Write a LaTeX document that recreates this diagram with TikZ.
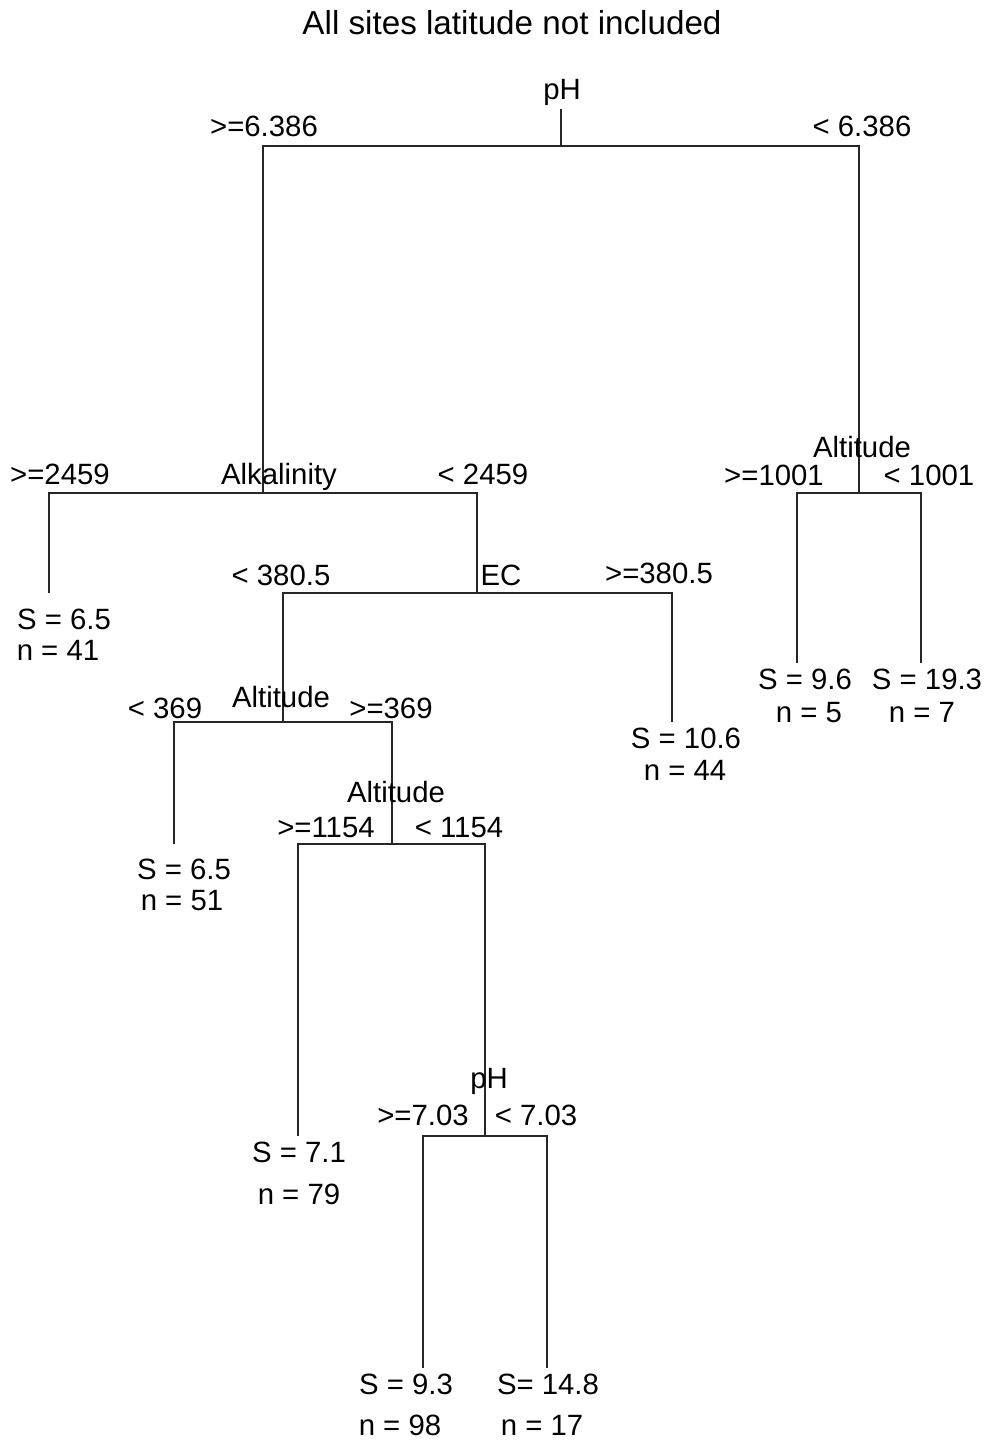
\documentclass[tikz,border=0pt]{standalone}
\usepackage{fontspec}
\setmainfont{Liberation Sans}
\usepackage{tikz}
\usetikzlibrary{positioning}

\begin{document}
\begin{tikzpicture}[
    x=0.02cm, y=-0.02cm,
    edge/.style={line width=0.6pt, black!85},
    lbl/.style={anchor=base, inner sep=0pt, font=\fontsize{16.7}{20}\selectfont},
    ttl/.style={anchor=base, inner sep=0pt, font=\fontsize{18.9}{22}\selectfont}
]
    \useasboundingbox (0,0) rectangle (989,1443);
    \node[ttl] (title) at (512,35) {All sites latitude not included};

    % splits and leaves of the tree
    \coordinate (stub) at (561,109);
    \coordinate (root) at (561,146);
    \coordinate (alk)  at (263,493);
    \coordinate (alt1) at (859,493);
    \coordinate (l41)  at (49,593);
    \coordinate (ec)   at (477,593);
    \coordinate (alt2) at (283,722);
    \coordinate (l44)  at (672,722);
    \coordinate (l51)  at (174,844);
    \coordinate (alt3) at (392,844);
    \coordinate (l79)  at (298,1136);
    \coordinate (ph2)  at (485,1136);
    \coordinate (l98)  at (423,1368);
    \coordinate (l17)  at (547,1368);
    \coordinate (l5)   at (797,663);
    \coordinate (l7)   at (921,663);

    \draw[edge] (stub) -- (root);
    \draw[edge] (root) -| (alk);
    \draw[edge] (root) -| (alt1);
    \draw[edge] (alk) -| (l41);
    \draw[edge] (alk) -| (ec);
    \draw[edge] (ec) -| (alt2);
    \draw[edge] (ec) -| (l44);
    \draw[edge] (alt2) -| (l51);
    \draw[edge] (alt2) -| (alt3);
    \draw[edge] (alt3) -| (l79);
    \draw[edge] (alt3) -| (ph2);
    \draw[edge] (ph2) -| (l98);
    \draw[edge] (ph2) -| (l17);
    \draw[edge] (alt1) -| (l5);
    \draw[edge] (alt1) -| (l7);

    % split labels
    \node[lbl] (rootvar) at (562,100) {pH};
    \node[lbl] (rootl) at (264,136) {>=6.386};
    \node[lbl] (rootr) at (862,136) {< 6.386};
    \node[lbl] (alkvar) at (279,484) {Alkalinity};
    \node[lbl] (alkl) at (60,484) {>=2459};
    \node[lbl] (alkr) at (483,484) {< 2459};
    \node[lbl] (ecvar) at (501,585) {EC};
    \node[lbl] (ecl) at (281,585) {< 380.5};
    \node[lbl] (ecr) at (659,583) {>=380.5};
    \node[lbl] (alt2var) at (281,707) {Altitude};
    \node[lbl] (alt2l) at (165,718) {< 369};
    \node[lbl] (alt2r) at (391,718) {>=369};
    \node[lbl] (alt3var) at (396,802) {Altitude};
    \node[lbl] (alt3l) at (326,837) {>=1154};
    \node[lbl] (alt3r) at (459,837) {< 1154};
    \node[lbl] (ph2var) at (489,1088) {pH};
    \node[lbl] (ph2l) at (423,1125) {>=7.03};
    \node[lbl] (ph2r) at (536,1125) {< 7.03};
    \node[lbl] (alt1var) at (862,457) {Altitude};
    \node[lbl] (alt1l) at (774,485) {>=1001};
    \node[lbl] (alt1r) at (929,485) {< 1001};

    % leaf labels
    \node[lbl] (s41) at (64,629) {S = 6.5};
    \node[lbl] (n41) at (58,660) {n = 41};
    \node[lbl] (s44) at (686,748) {S = 10.6};
    \node[lbl] (n44) at (685,780) {n = 44};
    \node[lbl] (s51) at (184,879) {S = 6.5};
    \node[lbl] (n51) at (182,910) {n = 51};
    \node[lbl] (s79) at (299,1162) {S = 7.1};
    \node[lbl] (n79) at (299,1204) {n = 79};
    \node[lbl] (s98) at (406,1394) {S = 9.3};
    \node[lbl] (n98) at (400,1435) {n = 98};
    \node[lbl] (s17) at (548,1394) {S= 14.8};
    \node[lbl] (n17) at (542,1435) {n = 17};
    \node[lbl] (s5) at (805,689) {S = 9.6};
    \node[lbl] (n5) at (809,722) {n = 5};
    \node[lbl] (s7) at (927,689) {S = 19.3};
    \node[lbl] (n7) at (922,722) {n = 7};
\end{tikzpicture}
\end{document}
